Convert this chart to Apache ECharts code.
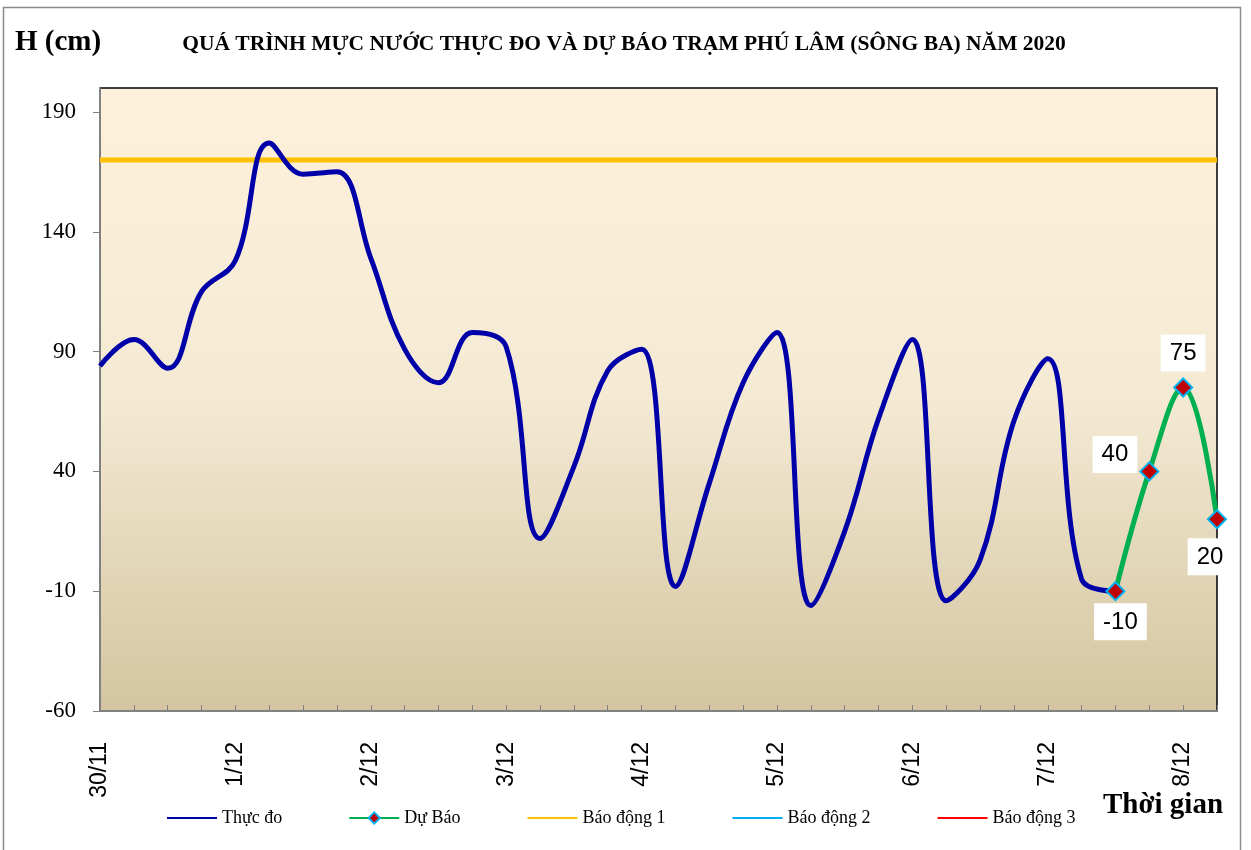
<!DOCTYPE html>
<html lang="vi">
<head>
<meta charset="utf-8">
<title>Mực nước Phú Lâm</title>
<script src="https://cdn.jsdelivr.net/npm/echarts@6/dist/echarts.min.js"></script>
<style>
  html, body { margin: 0; padding: 0; background: #fff; }
  #chart { width: 1251px; height: 850px; }
</style>
</head>
<body>
<div id="chart"></div>
<script type="text/javascript">
    // moc thoi gian 6 gio mot lan, tu 30/11 den 8/12 06h
    let timeList = [
        '30/11 00h', '30/11 06h', '30/11 12h', '30/11 18h',
        '1/12 00h', '1/12 06h', '1/12 12h', '1/12 18h',
        '2/12 00h', '2/12 06h', '2/12 12h', '2/12 18h',
        '3/12 00h', '3/12 06h', '3/12 12h', '3/12 18h',
        '4/12 00h', '4/12 06h', '4/12 12h', '4/12 18h',
        '5/12 00h', '5/12 06h', '5/12 12h', '5/12 18h',
        '6/12 00h', '6/12 06h', '6/12 12h', '6/12 18h',
        '7/12 00h', '7/12 06h', '7/12 12h', '7/12 18h',
        '8/12 00h', '8/12 06h'
    ];

    // muc nuoc thuc do (cm)
    let thucDo = [
        84, 95, 83, 115, 128, 177, 164, 165,
        129, 91, 77, 98, 92, 12, 42, 82,
        91, -8, 35, 77, 98, -16, 15, 62,
        95, -14, 3, 61, 87, -5, -10, '-', '-', '-'
    ];

    // muc nuoc du bao (cm)
    let duBao = [
        '-', '-', '-', '-', '-', '-', '-', '-',
        '-', '-', '-', '-', '-', '-', '-', '-',
        '-', '-', '-', '-', '-', '-', '-', '-',
        '-', '-', '-', '-', '-', '-', -10, 40, 75, 20
    ];

    // muc bao dong (cm)
    let baoDong1 = 170;
    let baoDong2 = 270;
    let baoDong3 = 370;

    let yTicks = [-60, -10, 40, 90, 140, 190];

    // vi tri nhan cua 4 diem du bao
    let labelPos = ['bottom', 'left', 'top', 'bottom'];
    let labelOffset = [[5, -10], [10, -17], [0, 6], [-7, -3]];

    let serif = '"Liberation Serif", "DejaVu Serif", serif';
    let sans = '"Liberation Sans", Arial, sans-serif';

    function flatLine(v){
        return timeList.map(() => v);
    }

    // chi ve duong trong chu giai, an ky hieu tron
    function lineOnly(name){
        return { name: name, itemStyle: { opacity: 0 } };
    }

    let chart = echarts.init(document.getElementById('chart'));

    let forecastData = duBao.map((v, i) => {
        if(v === '-') return v;
        let k = i - 30;
        return {
            value: v,
            label: { position: labelPos[k], offset: labelOffset[k] }
        };
    });

    let option = {
        animation: false,
        backgroundColor: '#fff',
        title: {
            text: 'QUÁ TRÌNH MỰC NƯỚC THỰC ĐO VÀ DỰ BÁO TRẠM PHÚ LÂM (SÔNG BA) NĂM 2020',
            left: 619,
            textAlign: 'center',
            top: 28,
            textStyle: { fontFamily: serif, fontWeight: 'bold', fontSize: 21.5, color: '#000' }
        },
        graphic: [
            {
                type: 'rect',
                shape: { x: 3.5, y: 7.5, width: 1237, height: 850 },
                style: { fill: 'none', stroke: '#8c8c8c', lineWidth: 1.5 },
                silent: true
            },
            {
                type: 'text',
                left: 15, top: 28,
                style: { text: 'H (cm)', font: 'bold 29px ' + serif, fill: '#000' }
            },
            {
                type: 'text',
                left: 1103, top: 791,
                style: { text: 'Thời gian', font: 'bold 29px ' + serif, fill: '#000' }
            }
        ],
        legend: {
            left: 161,
            top: 804,
            itemWidth: 50,
            itemHeight: 14,
            itemGap: 66,
            textStyle: { fontFamily: serif, fontSize: 18, color: '#000' },
            data: [
                lineOnly('Thực đo'),
                'Dự Báo',
                lineOnly('Báo động 1'),
                lineOnly('Báo động 2'),
                lineOnly('Báo động 3')
            ]
        },
        grid: {
            left: 100, right: 34, top: 88, bottom: 139,
            show: true,
            borderColor: '#000',
            borderWidth: 1.5,
            backgroundColor: {
                type: 'linear', x: 0, y: 0, x2: 0, y2: 1,
                colorStops: [
                    { offset: 0, color: '#fef1dc' },
                    { offset: 0.5, color: '#f4ead4' },
                    { offset: 1, color: '#d3c5a0' }
                ]
            }
        },
        xAxis: {
            type: 'category',
            boundaryGap: false,
            data: timeList,
            axisLine: { onZero: false, lineStyle: { color: '#808080', width: 2 } },
            axisTick: { interval: 0, inside: true, length: 6, lineStyle: { color: '#808080' } },
            axisLabel: {
                interval: 3,
                rotate: 90,
                margin: 31,
                fontFamily: sans,
                fontSize: 23,
                color: '#000',
                formatter: (v) => v.split(' ')[0]
            },
            splitLine: { show: false }
        },
        yAxis: {
            type: 'value',
            min: -60,
            max: 200,
            interval: 50,
            axisLine: { show: true, lineStyle: { color: '#808080', width: 2 } },
            axisTick: { show: true, length: 7, customValues: yTicks, lineStyle: { color: '#808080' } },
            axisLabel: {
                customValues: yTicks,
                margin: 24,
                fontFamily: serif,
                fontSize: 23,
                color: '#000'
            },
            splitLine: { show: false }
        },
        series: [
            {
                name: 'Thực đo',
                type: 'line',
                data: thucDo,
                smooth: 0.4,
                symbol: 'none',
                lineStyle: { color: '#0000a8', width: 5 },
                itemStyle: { color: '#0000a8' },
                z: 3
            },
            {
                name: 'Dự Báo',
                type: 'line',
                data: forecastData,
                smooth: 0.4,
                symbol: 'diamond',
                symbolSize: 18,
                lineStyle: { color: '#00b050', width: 5 },
                itemStyle: { color: '#c00000', borderColor: '#00b0f0', borderWidth: 2 },
                label: {
                    show: true,
                    fontFamily: sans,
                    fontSize: 24,
                    color: '#000',
                    backgroundColor: '#fff',
                    padding: [7, 9, 6, 9],
                    distance: 12
                },
                z: 4
            },
            {
                name: 'Báo động 1',
                type: 'line',
                data: flatLine(baoDong1),
                symbol: 'none',
                lineStyle: { color: '#ffc000', width: 5 },
                itemStyle: { color: '#ffc000' },
                z: 2
            },
            {
                name: 'Báo động 2',
                type: 'line',
                data: flatLine(baoDong2),
                symbol: 'none',
                clip: true,
                lineStyle: { color: '#00b0f0', width: 3 },
                itemStyle: { color: '#00b0f0' }
            },
            {
                name: 'Báo động 3',
                type: 'line',
                data: flatLine(baoDong3),
                symbol: 'none',
                clip: true,
                lineStyle: { color: '#ff0000', width: 3 },
                itemStyle: { color: '#ff0000' }
            }
        ]
    };

    chart.setOption(option);
</script>
</body>
</html>
